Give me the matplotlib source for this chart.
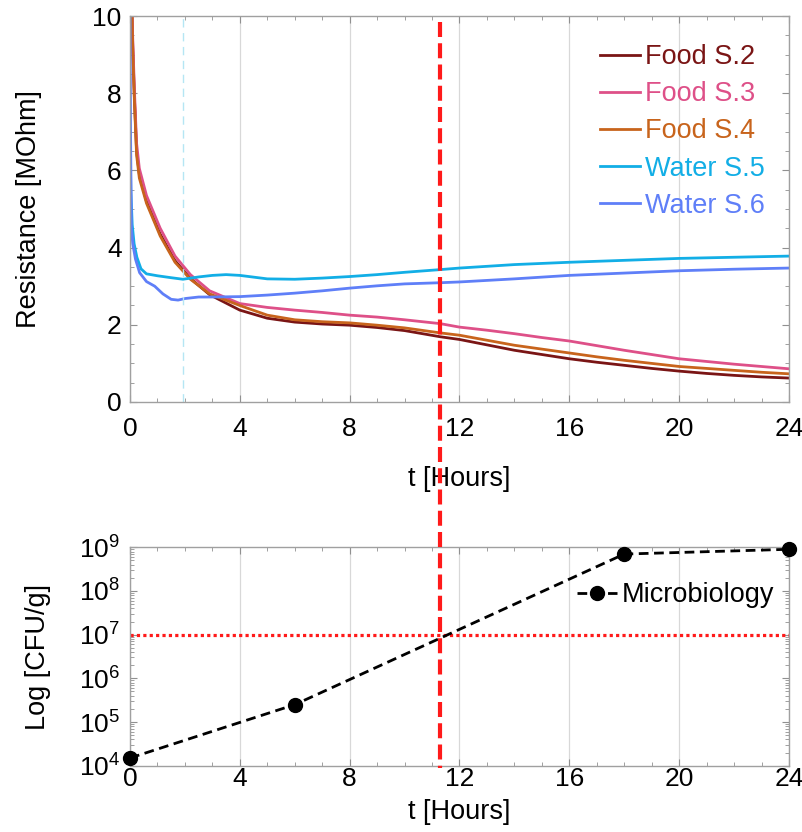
import matplotlib
matplotlib.use("Agg")
import matplotlib.pyplot as plt
import matplotlib.transforms as mtransforms
from matplotlib.lines import Line2D
from matplotlib.ticker import MultipleLocator, LogLocator, NullFormatter

plt.rcParams['font.family'] = ['Liberation Sans', 'DejaVu Sans']
plt.rcParams['mathtext.fontset'] = 'custom'
plt.rcParams['mathtext.rm'] = 'Liberation Sans'
plt.rcParams['mathtext.it'] = 'Liberation Sans'

# ---------------- data ----------------
t_food = [0.06, 0.1, 0.16, 0.24, 0.34, 0.6, 1.1, 1.64, 2.2, 2.9, 4.0, 5.0, 6.0, 7.0, 8.0, 9.0,
          10.0, 11.3, 12.0, 13.0, 14.0, 15.0, 16.0, 17.0, 18.0, 19.0, 20.0, 21.0, 22.0, 23.0, 24.0]
food_s2 = [10.5, 9.2, 7.9, 6.5, 5.9, 5.2, 4.35, 3.66, 3.2, 2.78, 2.38, 2.17, 2.07, 2.02, 1.99, 1.93,
           1.85, 1.69, 1.62, 1.48, 1.34, 1.23, 1.12, 1.03, 0.95, 0.87, 0.80, 0.74, 0.69, 0.65, 0.62]
food_s3 = [10.5, 9.4, 8.1, 6.7, 6.05, 5.35, 4.5, 3.78, 3.3, 2.88, 2.55, 2.45, 2.38, 2.32, 2.25, 2.20,
           2.13, 2.03, 1.94, 1.86, 1.77, 1.67, 1.58, 1.46, 1.34, 1.23, 1.12, 1.05, 0.98, 0.92, 0.86]
food_s4 = [10.5, 9.1, 7.8, 6.4, 5.8, 5.15, 4.3, 3.62, 3.18, 2.8, 2.5, 2.25, 2.13, 2.08, 2.05, 1.99,
           1.92, 1.79, 1.73, 1.60, 1.47, 1.37, 1.27, 1.17, 1.08, 1.00, 0.92, 0.87, 0.82, 0.77, 0.73]

t_w5 = [0.0, 0.03, 0.08, 0.15, 0.25, 0.4, 0.6, 1.0, 1.5, 1.93, 2.5, 3.0, 3.5, 4.0, 5.0, 6.0, 7.0,
        8.0, 9.0, 10.0, 11.3, 12.0, 14.0, 16.0, 18.0, 20.0, 22.0, 24.0]
water_s5 = [7.0, 5.5, 4.6, 4.1, 3.75, 3.45, 3.32, 3.27, 3.22, 3.18, 3.24, 3.28, 3.3, 3.28, 3.19, 3.18,
            3.21, 3.25, 3.3, 3.36, 3.43, 3.47, 3.56, 3.62, 3.67, 3.72, 3.75, 3.78]

t_w6 = [0.0, 0.02, 0.05, 0.1, 0.2, 0.35, 0.6, 0.9, 1.2, 1.5, 1.75, 2.0, 2.5, 3.0, 4.0, 5.0, 6.0, 7.0,
        8.0, 9.0, 10.0, 11.3, 12.0, 14.0, 16.0, 18.0, 20.0, 22.0, 24.0]
water_s6 = [10.5, 7.0, 4.5, 4.1, 3.7, 3.35, 3.12, 3.0, 2.8, 2.66, 2.64, 2.68, 2.72, 2.72, 2.73, 2.77,
            2.82, 2.88, 2.95, 3.01, 3.06, 3.09, 3.11, 3.19, 3.28, 3.34, 3.40, 3.44, 3.47]

series_labels = ['Food S.2', 'Food S.3', 'Food S.4', 'Water S.5', 'Water S.6']
series_colors = ['#7a1515', '#de5088', '#c8641c', '#12aee6', '#5f7ff8']

t_micro = [0, 6, 18, 24]
cfu = [1.5e4, 2.5e5, 7.0e8, 9.0e8]

t_marker_cyan = 1.92
t_threshold = 11.3
cfu_threshold = 1e7

# ---------------- figure ----------------
W, H = 803, 832
fig = plt.figure(figsize=(W / 100, H / 100), dpi=100)

def px_axes(l, t, r, b):
    return fig.add_axes([l / W, 1 - b / H, (r - l) / W, (b - t) / H])

ax1 = px_axes(130, 16, 789, 402)
ax2 = px_axes(130, 547.3, 789, 765.7)

spine_col = '#a0a0a0'
for ax in (ax1, ax2):
    for s in ax.spines.values():
        s.set_color(spine_col)
        s.set_linewidth(1.0)
    ax.tick_params(which='both', direction='in', top=True, right=True, color='#909090',
                   labelsize=19)
    ax.tick_params(which='major', length=5, width=0.8)
    ax.tick_params(which='minor', length=3, width=0.6)
    ax.xaxis.set_major_locator(MultipleLocator(4))
    ax.xaxis.set_minor_locator(MultipleLocator(1))
    ax.grid(True, axis='x', which='major', color='#d8d8d8', linewidth=0.9)
    ax.set_axisbelow(True)
    ax.set_xlim(0, 24)

ax1.tick_params(axis='x', which='both', pad=11)
ax1.tick_params(axis='y', which='both', pad=6)
ax2.tick_params(axis='x', which='both', pad=1)
ax2.tick_params(axis='y', which='both', pad=7)

# top plot
ys = [food_s2, food_s3, food_s4, water_s5, water_s6]
ts = [t_food, t_food, t_food, t_w5, t_w6]
handles = []
for tt, yy, lab, col in zip(ts, ys, series_labels, series_colors):
    h, = ax1.plot(tt, yy, color=col, linewidth=2.0, label=lab)
    handles.append(h)
ax1.axvline(t_marker_cyan, color='#b5e6f4', linewidth=1.0, linestyle=(0, (6, 4)))
ax1.set_ylim(0, 10)
ax1.yaxis.set_major_locator(MultipleLocator(2))
ax1.yaxis.set_minor_locator(MultipleLocator(0.5))
ax1.set_ylabel('Resistance [MOhm]', fontsize=19.5, labelpad=36)
ax1.set_xlabel('t [Hours]', fontsize=19.5, labelpad=18)

leg = ax1.legend(handles=handles, loc='center left', bbox_to_anchor=(0.713, 0.701),
                 frameon=False, fontsize=19.5, handlelength=1.48, handletextpad=0.19,
                 labelspacing=0.41, borderpad=0, borderaxespad=0)
for txt, col in zip(leg.get_texts(), series_colors):
    txt.set_color(col)

# bottom plot
ax2.set_yscale('log')
ax2.set_ylim(1e4, 1e9)
ax2.yaxis.set_major_locator(LogLocator(base=10, numticks=10))
ax2.yaxis.set_minor_locator(LogLocator(base=10, subs=[2, 3, 4, 5, 6, 7, 8, 9], numticks=20))
ax2.yaxis.set_minor_formatter(NullFormatter())
ax2.axhline(cfu_threshold, color='#ff1a1a', linewidth=2.3, linestyle=(0, (1, 1)))
ax2.plot(t_micro, cfu, color='black', linestyle=(0, (3.5, 2)), linewidth=2.0,
         marker='o', markersize=10, label='Microbiology', clip_on=False, zorder=5)
ax2.set_ylabel('Log [CFU/g]', fontsize=19.5, labelpad=20)
ax2.set_xlabel('t [Hours]', fontsize=19.5, labelpad=6)
ax2.legend(loc='center left', bbox_to_anchor=(0.678, 0.7816), frameon=False, fontsize=19.5,
           handlelength=1.48, handletextpad=0.19, borderpad=0, borderaxespad=0)

# red vertical dashed threshold line spanning both plots
trans = mtransforms.blended_transform_factory(ax1.transData, fig.transFigure)
fig.add_artist(Line2D([t_threshold, t_threshold], [1 - 22 / H, 1 - 768 / H], transform=trans,
                      color='#ff1a1a', linewidth=3.0, linestyle=(0, (3.6, 1.5)), zorder=10))

fig.savefig('out.png', dpi=100)
